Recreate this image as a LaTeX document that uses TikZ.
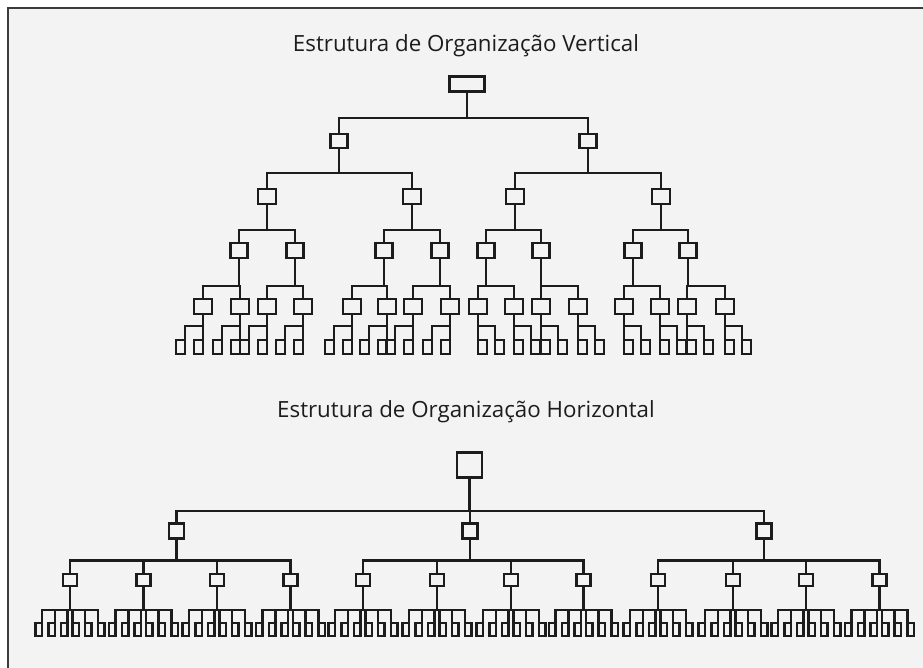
\documentclass[tikz,border=0pt]{standalone}
\usepackage{fontspec}
\setmainfont{Open Sans}
\definecolor{bg}{RGB}{243,243,243}
\definecolor{frame}{RGB}{60,60,60}
\definecolor{ln}{RGB}{28,28,28}
\begin{document}
\begin{tikzpicture}[x=1pt,y=-1pt,
  conn/.style={draw=ln,line width=2.2pt},
  box/.style={draw=ln,line width=2.2pt,rectangle,inner sep=0pt,outer sep=0pt},
  vroot/.style={box,minimum width=35pt,minimum height=15pt},
  vbox/.style={box,minimum width=17pt,minimum height=14pt},
  vleaf/.style={box,minimum width=9pt,minimum height=14pt},
  hroot/.style={box,minimum width=25pt,minimum height=25pt},
  hone/.style={box,minimum width=15pt,minimum height=15pt},
  htwo/.style={box,minimum width=14pt,minimum height=12pt},
  hleaf/.style={box,minimum width=6.5pt,minimum height=13pt},
  ttl/.style={font=\fontsize{22.3}{26}\selectfont,text=ln,inner sep=0pt}]
\useasboundingbox (0,0) rectangle (923,668);
\clip (0,0) rectangle (923,668);
\fill[white] (0,0) rectangle (923,668);
\draw[fill=bg,draw=frame,line width=2pt] (8,8) rectangle (940,690);

% titles
\node[ttl] (tv) at (466,46) {Estrutura de Organização Vertical};
\node[ttl] (th) at (466,412) {Estrutura de Organização Horizontal};

% ---------------- vertical tree ----------------
\node[vroot] (vr) at (467,84) {};
\coordinate (vr-bar) at (467,118);
\draw[conn] (vr.south) -- (vr-bar);
\foreach \n/\x in {a/339,b/588}{
  \node[vbox] (v1-\n) at (\x,141) {};
  \draw[conn] (v1-\n.north) |- (vr-bar);
  \coordinate (v1-\n-bar) at (\x,173);
  \draw[conn] (v1-\n.south) -- (v1-\n-bar);
}
\foreach \n/\pp/\x in {a/a/267,b/a/412,c/b/515,d/b/661}{
  \node[vbox,minimum width=18pt,minimum height=15pt] (v2-\n) at (\x,196.5) {};
  \draw[conn] (v2-\n.north) |- (v1-\pp-bar);
  \coordinate (v2-\n-bar) at (\x,230);
  \draw[conn] (v2-\n.south) -- (v2-\n-bar);
}
\foreach \n/\pp/\x in {1/a/239,2/a/295,3/b/384,4/b/440,5/c/486,6/c/541,7/d/633,8/d/688}{
  \node[vbox,minimum height=15pt] (v3-\n) at (\x,250.5) {};
  \draw[conn] (v3-\n.north) |- (v2-\pp-bar);
  \coordinate (v3-\n-bar) at (\x,286);
  \draw[conn] (v3-\n.south) -- (v3-\n-bar);
}
\foreach \n/\pp/\x in {1/1/203,2/1/240,3/2/267,4/2/303,5/3/352,6/3/387,7/4/413,8/4/450,
                       9/5/478,10/5/514,11/6/541,12/6/578,13/7/624,14/7/660,15/8/687,16/8/725}{
  \node[vbox,minimum width=18pt,minimum height=15pt] (v4-\n) at (\x,306.5) {};
  \draw[conn] (v4-\n.north) |- (v3-\pp-bar);
  \coordinate (v4-\n-bar) at (\x,326);
  \draw[conn] (v4-\n.south) -- (v4-\n-bar);
}
% leaves, left half: stem on the right side
\foreach \n/\x in {1/203,2/240,3/267,4/303,5/352,6/387,7/413,8/450}{
  \node[vleaf] (vl-\n-a) at ({\x-22.5},347) {};
  \node[vleaf] (vl-\n-b) at ({\x-4.5},347) {};
  \draw[conn] (vl-\n-a.north east) |- (v4-\n-bar);
  \draw[conn] (vl-\n-b.north east) |- (v4-\n-bar);
}
% leaves, right half: stem on the left side
\foreach \n/\x in {9/478,10/514,11/541,12/578,13/624,14/660,15/687,16/725}{
  \node[vleaf] (vl-\n-a) at ({\x+4.5},347) {};
  \node[vleaf] (vl-\n-b) at ({\x+21.5},347) {};
  \draw[conn] (vl-\n-a.north west) |- (v4-\n-bar);
  \draw[conn] (vl-\n-b.north west) |- (v4-\n-bar);
}

% ---------------- horizontal tree ----------------
\node[hroot] (hr) at (469.5,465) {};
\coordinate (hr-bar) at (469.5,511);
\draw[conn] (hr.south) -- (hr-bar);
\foreach \n/\x in {1/176.5,2/470,3/764}{
  \node[hone] (h1-\n) at (\x,531) {};
  \draw[conn] (h1-\n.north) |- (hr-bar);
  \coordinate (h1-\n-bar) at (\x,560.5);
  \draw[conn] (h1-\n.south) -- (h1-\n-bar);
}
\foreach \n/\pp/\x in {1/1/70,2/1/143.5,3/1/217,4/1/290.5,5/2/363,6/2/437,7/2/511,8/2/583.5,
                       9/3/658,10/3/733,11/3/806,12/3/879.5}{
  \node[htwo] (h2-\n) at (\x,580) {};
  \draw[conn] (h2-\n.north) |- (h1-\pp-bar);
  \coordinate (h2-\n-bar) at (\x,610);
  \draw[conn] (h2-\n.south) -- (h2-\n-bar);
  \foreach \m/\o in {a/-28,b/-15,c/-2.5}{
    \node[hleaf] (hl-\n-\m) at ({\x+\o-3.25},629.5) {};
    \draw[conn] (hl-\n-\m.north east) |- (h2-\n-bar);
  }
  \foreach \m/\o in {d/2.5,e/15,f/28}{
    \node[hleaf] (hl-\n-\m) at ({\x+\o+3.25},629.5) {};
    \draw[conn] (hl-\n-\m.north west) |- (h2-\n-bar);
  }
}
\end{tikzpicture}
\end{document}
